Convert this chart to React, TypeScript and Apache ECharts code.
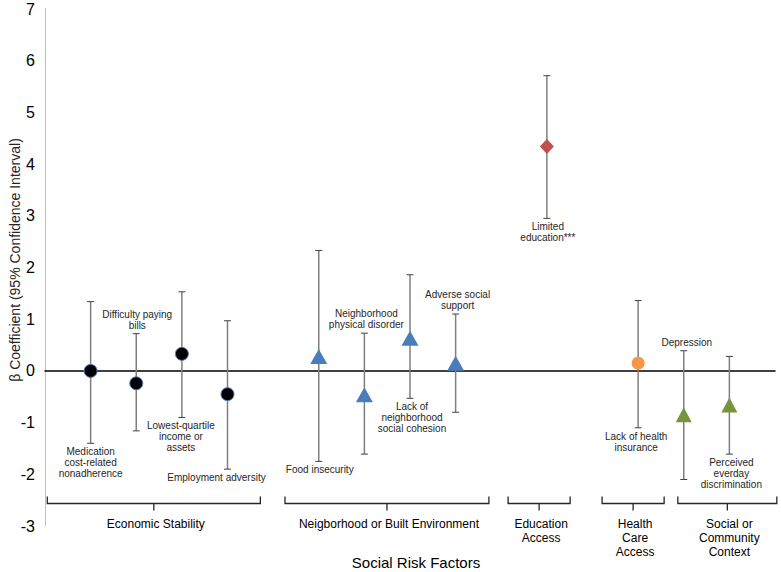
import React, { useEffect, useRef } from "react";
import * as echarts from "echarts";

// Social risk factors (in plotting order)
const factors = [
  "Medication\ncost-related\nnonadherence",
  "Difficulty paying\nbills",
  "Lowest-quartile\nincome or\nassets",
  "Employment adversity",
  "Food insecurity",
  "Neighborhood\nphysical disorder",
  "Lack of\nneighborhood\nsocial cohesion",
  "Adverse social\nsupport",
  "Limited\neducation***",
  "Lack of health\ninsurance",
  "Depression",
  "Perceived\neverday\ndiscrimination",
];
// slot of each factor along the horizontal axis (gaps between domains)
const slots = [0, 1, 2, 3, 5, 6, 7, 8, 10, 12, 13, 14];
const beta = [0.0, -0.24, 0.33, -0.45, 0.28, -0.46, 0.63, 0.15, 4.34, 0.15, -0.85, -0.66];
const ciLow = [-1.4, -1.16, -0.9, -1.9, -1.75, -1.61, -0.53, -0.8, 2.95, -1.1, -2.1, -1.61];
const ciHigh = [1.34, 0.72, 1.53, 0.97, 2.33, 0.73, 1.86, 1.1, 5.71, 1.36, 0.39, 0.28];
const domainOf = [0, 0, 0, 0, 1, 1, 1, 1, 2, 3, 4, 4];
const labelSide = ["bottom", "top", "bottom", "bottom", "bottom", "top", "bottom", "top", "bottom", "bottom", "top", "bottom"];
const labelDx = [0, 1, -1, -11, 1, 2, 2, 2, 1, -2, 3, 2];

// Domains and the span of their brackets (in axis slot units)
const domains = [
  "Economic Stability",
  "Neigborhood or Built Environment",
  "Education\nAccess",
  "Health\nCare\nAccess",
  "Social or\nCommunity\nContext",
];
const domainStart = [-0.95, 4.26, 9.15, 11.21, 12.87];
const domainEnd = [3.72, 8.73, 10.51, 12.57, 15.04];

const yTicks = { min: -3, max: 7, interval: 1 };
const yTitle = "β Coefficient (95% Confidence Interval)";
const xTitle = "Social Risk Factors";

const domainStyle = [
  { symbol: "circle", size: 13, color: "#000000", border: "#4F81BD", borderWidth: 1 },
  { symbol: "triangle", size: [17, 15], color: "#4A7EBB", border: "#4A7EBB", borderWidth: 0 },
  { symbol: "diamond", size: [14, 15], color: "#C0504D", border: "#C0504D", borderWidth: 0 },
  { symbol: "circle", size: 13, color: "#F79646", border: "#F79646", borderWidth: 0 },
  { symbol: "triangle", size: [16, 15], color: "#77933C", border: "#77933C", borderWidth: 0 },
];

const FONT = "Liberation Sans, Arial, Helvetica, sans-serif";

export default function App() {
  const ref = useRef<HTMLDivElement>(null);

  useEffect(() => {
    if (!ref.current) return;
    const chart = echarts.init(ref.current, null, { renderer: "svg" });

    const errData = factors.map((_, i) => [slots[i], ciLow[i], ciHigh[i], i]);
    const bracketData = domains.map((_, g) => [domainStart[g], domainEnd[g], g]);

    const scatterSeries = domains.map((name, g) => {
      const st = domainStyle[g];
      return {
        type: "scatter",
        name,
        z: 5,
        symbol: st.symbol,
        symbolSize: st.size,
        itemStyle: { color: st.color, borderColor: st.border, borderWidth: st.borderWidth, opacity: 1 },
        data: factors
          .map((_, i) => (domainOf[i] === g ? [slots[i], beta[i]] : null))
          .filter((d) => d !== null),
      };
    });

    const option: any = {
      animation: false,
      textStyle: { fontFamily: FONT },
      grid: { left: 45, right: 6, top: 9, bottom: 46, containLabel: false, outerBoundsMode: "none" },
      xAxis: {
        type: "value",
        min: -1,
        max: 15,
        axisLine: { show: true, onZero: true, lineStyle: { color: "#000000", width: 1.5 } },
        axisTick: { show: false },
        axisLabel: { show: false },
        splitLine: { show: false },
      },
      yAxis: {
        type: "value",
        min: yTicks.min,
        max: yTicks.max,
        interval: yTicks.interval,
        axisLine: { show: true, onZero: false, lineStyle: { color: "#c0c0c0", width: 1 } },
        axisTick: { show: false },
        axisLabel: { fontSize: 16, color: "#000000", margin: 10, fontFamily: FONT },
        splitLine: { show: false },
      },
      graphic: [
        {
          type: "text",
          x: 416,
          y: 562,
          style: {
            text: xTitle,
            fontSize: 15,
            fill: "#000000",
            align: "center",
            verticalAlign: "middle",
            fontFamily: FONT,
          },
        },
        {
          type: "text",
          x: 15,
          y: 260,
          rotation: Math.PI / 2,
          style: {
            text: yTitle,
            fontSize: 14,
            fill: "#262626",
            align: "center",
            verticalAlign: "middle",
            fontFamily: FONT,
          },
        },
      ],
      series: [
        {
          type: "custom",
          z: 2,
          clip: false,
          silent: true,
          data: errData,
          renderItem: (params: any, api: any) => {
            const x = api.value(0);
            const lo = api.value(1);
            const hi = api.value(2);
            const i = api.value(3);
            const pLo = api.coord([x, lo]);
            const pHi = api.coord([x, hi]);
            const cap = 3.5;
            const top = labelSide[i] === "top";
            return {
              type: "group",
              children: [
                {
                  type: "line",
                  shape: { x1: pLo[0], y1: pLo[1], x2: pHi[0], y2: pHi[1] },
                  style: { stroke: "#7f7f7f", lineWidth: 1.5 },
                },
                {
                  type: "line",
                  shape: { x1: pLo[0] - cap, y1: pLo[1], x2: pLo[0] + cap, y2: pLo[1] },
                  style: { stroke: "#404040", lineWidth: 1 },
                },
                {
                  type: "line",
                  shape: { x1: pHi[0] - cap, y1: pHi[1], x2: pHi[0] + cap, y2: pHi[1] },
                  style: { stroke: "#404040", lineWidth: 1 },
                },
                {
                  type: "text",
                  x: pLo[0] + labelDx[i],
                  y: top ? pHi[1] - 3 : pLo[1] + 3,
                  style: {
                    text: factors[i],
                    align: "center",
                    verticalAlign: top ? "bottom" : "top",
                    fontSize: 10,
                    lineHeight: 11,
                    fill: "#262626",
                    fontFamily: FONT,
                  },
                },
              ],
            };
          },
        },
        {
          type: "custom",
          z: 2,
          clip: false,
          silent: true,
          data: bracketData,
          renderItem: (params: any, api: any) => {
            const s = api.value(0);
            const e = api.value(1);
            const g = api.value(2);
            const pS = api.coord([s, yTicks.min]);
            const pE = api.coord([e, yTicks.min]);
            const yLine = pS[1] - 22.5;
            const xm = (pS[0] + pE[0]) / 2;
            return {
              type: "group",
              children: [
                {
                  type: "polyline",
                  shape: {
                    points: [
                      [pS[0], yLine - 7],
                      [pS[0], yLine],
                      [pE[0], yLine],
                      [pE[0], yLine - 7],
                    ],
                  },
                  style: { stroke: "#262626", lineWidth: 1.3, fill: null },
                },
                {
                  type: "line",
                  shape: { x1: xm, y1: yLine, x2: xm, y2: yLine + 7 },
                  style: { stroke: "#262626", lineWidth: 1.3 },
                },
                {
                  type: "text",
                  x: xm + 2,
                  y: yLine + 13,
                  style: {
                    text: domains[g],
                    align: "center",
                    verticalAlign: "top",
                    fontSize: 12,
                    lineHeight: 14,
                    fill: "#000000",
                    fontFamily: FONT,
                  },
                },
              ],
            };
          },
        },
        ...scatterSeries,
      ],
    };

    chart.setOption(option);
    return () => chart.dispose();
  }, []);

  return <div ref={ref} style={{ width: 781, height: 572, position: "absolute", left: 0, top: 0 }} />;
}
